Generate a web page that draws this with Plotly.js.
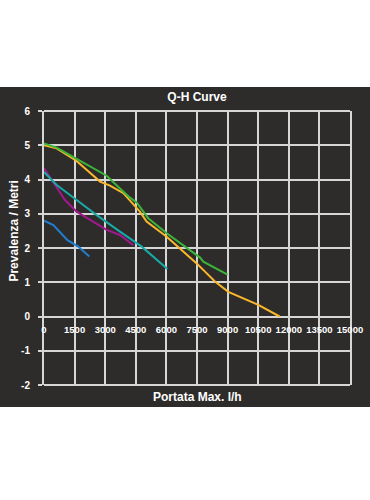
<!DOCTYPE html>
<html><head><meta charset="utf-8">
<script src="https://cdn.plot.ly/plotly-3.0.1.min.js"></script>
<style>
html,body{margin:0;padding:0;background:#ffffff;width:370px;height:500px;overflow:hidden;}
#chart{position:absolute;left:0;top:87px;width:370px;height:320px;}
</style></head>
<body><div id="chart"></div>
<script>
// Flow (l/h) and head (m) values
const yellowQ = [0, 620, 1600, 2745, 3235, 3890, 4700, 5030, 6015, 6830, 7485, 8380, 9035, 10505, 11550];
const yellowH = [5.0, 4.91, 4.54, 3.94, 3.82, 3.60, 3.06, 2.77, 2.33, 1.89, 1.55, 1.02, 0.72, 0.34, 0.0];
const greenQ  = [0, 620, 1600, 3070, 3725, 4215, 4540, 5110, 6015, 6910, 7650, 7810, 9000];
const greenH  = [5.05, 4.93, 4.60, 4.11, 3.74, 3.47, 3.33, 2.87, 2.43, 2.04, 1.72, 1.60, 1.22];
const cyanQ   = [0, 620, 1600, 2580, 3725, 4790, 6050];
const cyanH   = [4.22, 3.84, 3.40, 2.96, 2.48, 2.04, 1.39];
const magentaQ = [0, 540, 1030, 1600, 2255, 3070, 3725, 4380];
const magentaH = [4.33, 3.84, 3.40, 3.06, 2.82, 2.53, 2.38, 2.08];
const blueQ   = [0, 460, 1150, 1680, 2220];
const blueH   = [2.80, 2.67, 2.23, 2.04, 1.75];

const xTicks = [0, 1500, 3000, 4500, 6000, 7500, 9000, 10500, 12000, 13500, 15000];
const yTicks = [-2, -1, 0, 1, 2, 3, 4, 5, 6];

const chartTitle = 'Q-H Curve';
const xTitle = 'Portata Max. l/h';
const yTitle = 'Prevalenza / Metri';

const FONT = 'Liberation Sans, Arial, sans-serif';
const GRID = '#d6d6d6';

function line(q, h, color) {
  return {x: q, y: h, type: 'scatter', mode: 'lines',
          line: {color: color, width: 2}, hoverinfo: 'skip', showlegend: false};
}

const data = [
  line(blueQ, blueH, '#1f7fd0'),
  line(magentaQ, magentaH, '#a3188f'),
  line(cyanQ, cyanH, '#17aaa8'),
  line(yellowQ, yellowH, '#fbb72b'),
  line(greenQ, greenH, '#3cb43a')
];

const layout = {
  width: 370, height: 320,
  paper_bgcolor: '#2e2c2b', plot_bgcolor: '#2e2c2b',
  margin: {l: 44, r: 20, t: 24, b: 22, pad: 0},
  font: {family: FONT, color: '#ffffff', size: 10, weight: 'bold'},
  title: {text: chartTitle, font: {family: FONT, size: 12, color: '#ffffff', weight: 'bold'},
          x: 0.5, xref: 'paper', xanchor: 'center', y: 1 - 10/320, yref: 'container', yanchor: 'middle'},
  xaxis: {
    range: [0, 15000], tickvals: xTicks, ticktext: xTicks.map(String),
    showgrid: true, gridcolor: GRID, gridwidth: 2,
    zeroline: false, showline: false,
    anchor: 'free', position: 0.25, tickangle: 0,
    ticks: 'outside', ticklen: 4, tickcolor: 'rgba(0,0,0,0)',
    tickfont: {family: FONT, size: 9.5, color: '#ffffff', weight: 'bold'},
    fixedrange: true
  },
  yaxis: {
    range: [-2, 6], tickvals: yTicks, ticktext: yTicks.map(String),
    showgrid: true, gridcolor: GRID, gridwidth: 2,
    zeroline: false, showline: true, mirror: true, linecolor: GRID, linewidth: 2,
    ticks: 'outside', ticklen: 4, tickwidth: 2, tickcolor: GRID,
    ticklabelstandoff: 6,
    tickfont: {family: FONT, size: 10, color: '#ffffff', weight: 'bold'},
    fixedrange: true
  },
  shapes: [
    {type: 'line', xref: 'paper', yref: 'paper', x0: 0, x1: 1, y0: 1, y1: 1, line: {color: GRID, width: 2}},
    {type: 'line', xref: 'paper', yref: 'paper', x0: 0, x1: 1, y0: 0, y1: 0, line: {color: GRID, width: 2}}
  ],
  annotations: [
    {text: xTitle, xref: 'paper', yref: 'paper', x: 0.5, y: 0, yshift: -12, xanchor: 'center', yanchor: 'middle',
     showarrow: false, font: {family: FONT, size: 12, color: '#ffffff', weight: 'bold'}},
    {text: yTitle, xref: 'paper', yref: 'paper', x: 0, xshift: -30, y: 0.56, textangle: -90,
     xanchor: 'center', yanchor: 'middle',
     showarrow: false, font: {family: FONT, size: 12, color: '#ffffff', weight: 'bold'}}
  ]
};

Plotly.newPlot('chart', data, layout, {displayModeBar: false, staticPlot: true});
</script>
</body></html>
